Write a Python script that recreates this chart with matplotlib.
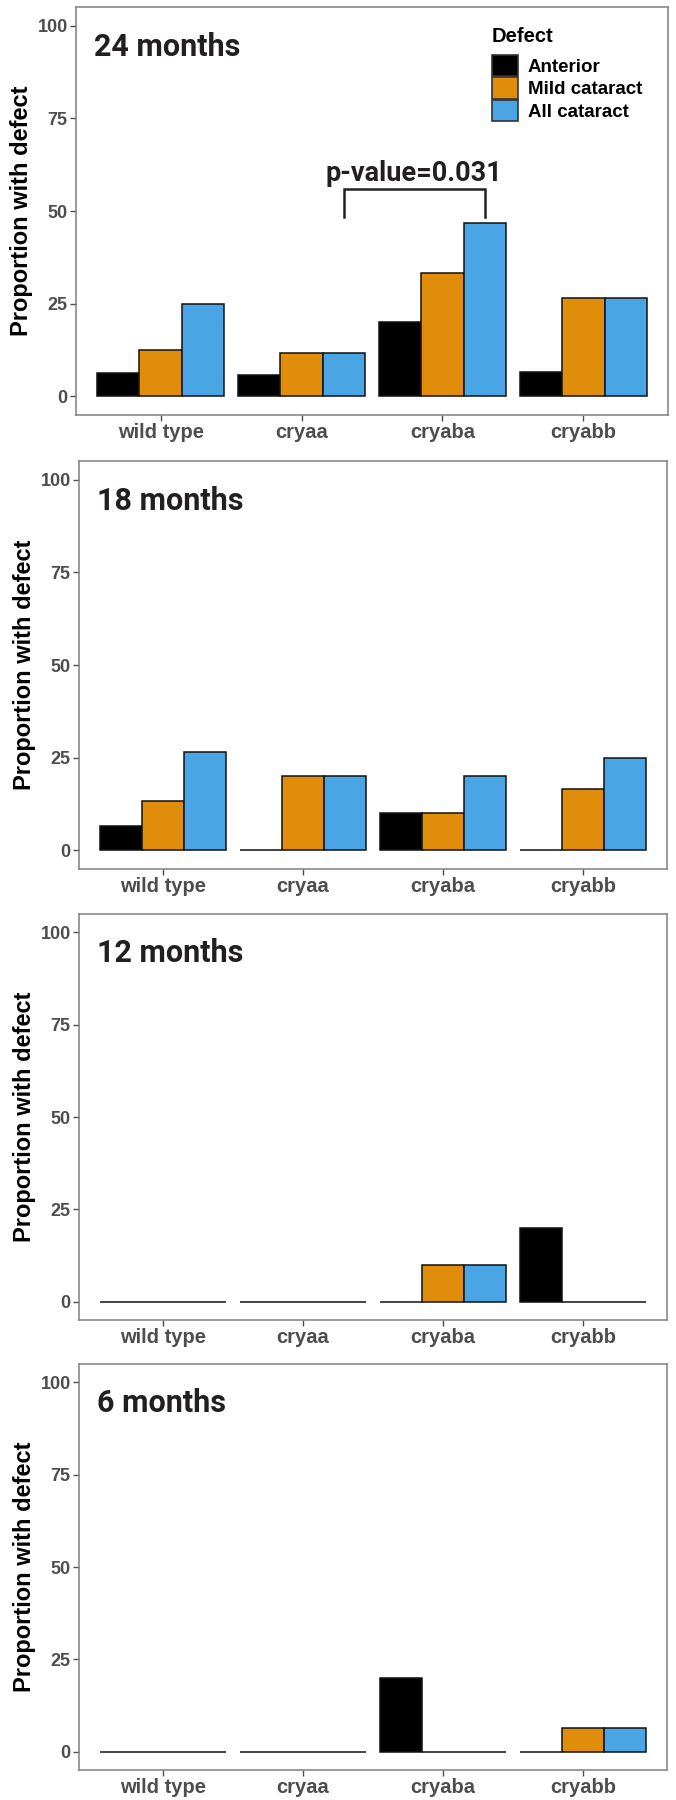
import matplotlib
matplotlib.use("Agg")
import matplotlib.pyplot as plt
from matplotlib.patches import Patch
import numpy as np

genotypes = ["wild type", "cryaa", "cryaba", "cryabb"]
defects = ["Anterior", "Mild cataract", "All cataract"]
colors = ["#000000", "#DF8D0A", "#49A5E3"]

months_labels = ["24 months", "18 months", "12 months", "6 months"]

# values per panel: [Anterior, Mild cataract, All cataract] for each genotype
m24_anterior = [6.25, 5.9, 20.0, 6.67]
m24_mild = [12.5, 11.76, 33.3, 26.67]
m24_all = [25.0, 11.76, 46.67, 26.67]

m18_anterior = [6.67, 0.0, 10.0, 0.0]
m18_mild = [13.33, 20.0, 10.0, 16.67]
m18_all = [26.67, 20.0, 20.0, 25.0]

m12_anterior = [0.0, 0.0, 0.0, 20.0]
m12_mild = [0.0, 0.0, 10.0, 0.0]
m12_all = [0.0, 0.0, 10.0, 0.0]

m6_anterior = [0.0, 0.0, 20.0, 0.0]
m6_mild = [0.0, 0.0, 0.0, 6.25]
m6_all = [0.0, 0.0, 0.0, 6.25]

yticks = [0, 25, 50, 75, 100]
pvalue_text = "p-value=0.031"

panels = [
    (m24_anterior, m24_mild, m24_all),
    (m18_anterior, m18_mild, m18_all),
    (m12_anterior, m12_mild, m12_all),
    (m6_anterior, m6_mild, m6_all),
]

W, H = 676, 1800
fig = plt.figure(figsize=(W / 100, H / 100), dpi=100)

# axes rectangles in pixels: left, top, right, bottom
rects_px = [
    (76, 7, 668, 415),
    (79, 461, 667, 869),
    (79, 914, 667, 1320),
    (79, 1364, 667, 1770),
]

ARIAL = ["Liberation Sans", "DejaVu Sans"]
label_font = dict(family=ARIAL, weight="bold", size=17, color="black")
title_font = dict(family=["Roboto", "DejaVu Sans"], weight="bold", size=22, color="#231F20")

x = np.arange(1, len(genotypes) + 1)
bw = 0.3
offsets = [-0.3, 0.0, 0.3]

for i, (vals, lab, (l, t, r, b)) in enumerate(zip(panels, months_labels, rects_px)):
    ax = fig.add_axes([l / W, (H - b) / H, (r - l) / W, (b - t) / H])
    for j, series in enumerate(vals):
        ax.bar(x + offsets[j], series, width=bw, color=colors[j],
               edgecolor="#111111", linewidth=1.1, zorder=3)
    ax.set_xlim(0.4, 4.6)
    ax.set_ylim(-5, 105)
    ax.set_xticks(x)
    ax.set_xticklabels(genotypes)
    ax.set_yticks(yticks)
    ax.set_yticklabels([str(v) for v in yticks])
    for lbl in ax.get_xticklabels():
        lbl.set_fontfamily(ARIAL)
        lbl.set_fontweight("bold")
        lbl.set_fontsize(14.5)
        lbl.set_color("#4D4D4D")
    for lbl in ax.get_yticklabels():
        lbl.set_fontfamily(ARIAL)
        lbl.set_fontweight("bold")
        lbl.set_fontsize(13)
        lbl.set_color("#4D4D4D")
    ax.tick_params(axis="both", length=4, width=1, color="#4D4D4D", pad=2)
    for s in ax.spines.values():
        s.set_color("#808080")
        s.set_linewidth(1.1)
    ax.set_ylabel("Proportion with defect", **label_font, labelpad=3)
    ax.text(0.031, 0.881, lab, transform=ax.transAxes, ha="left", va="baseline", **title_font)

    if i == 0:
        # significance bracket between cryaa and cryaba "All cataract" bars
        x1 = x[1] + offsets[2]
        x2 = x[2] + offsets[2]
        ax.plot([x1, x1, x2, x2], [48.5, 56, 56, 48.5], color="#222222", lw=1.8, zorder=4,
                solid_joinstyle="miter")
        ax.text((x1 + x2) / 2, 58.2, pvalue_text, ha="center", va="baseline",
                family=["Roboto", "DejaVu Sans"], weight="bold", size=19.5, color="#231F20")
        handles = [Patch(facecolor=c, edgecolor="#333333", linewidth=1.2) for c in colors]
        fs = 13.5
        key_px = 26
        fs_px = fs * 100 / 72
        ax.legend(handles, defects, loc="upper left",
                  bbox_to_anchor=((492 - l) / (r - l), (b - 55) / (b - t)),
                  frameon=False, borderpad=0,
                  handlelength=key_px / fs_px, handleheight=key_px / fs_px,
                  labelspacing=0.05, handletextpad=10 / fs_px, borderaxespad=0,
                  prop=dict(family=ARIAL, weight="bold", size=fs))
        ax.text((492 - l) / (r - l), (b - 42) / (b - t), "Defect", transform=ax.transAxes,
                ha="left", va="baseline", family=ARIAL, weight="bold", size=14.5, color="black")

fig.savefig("out.png", dpi=100)
